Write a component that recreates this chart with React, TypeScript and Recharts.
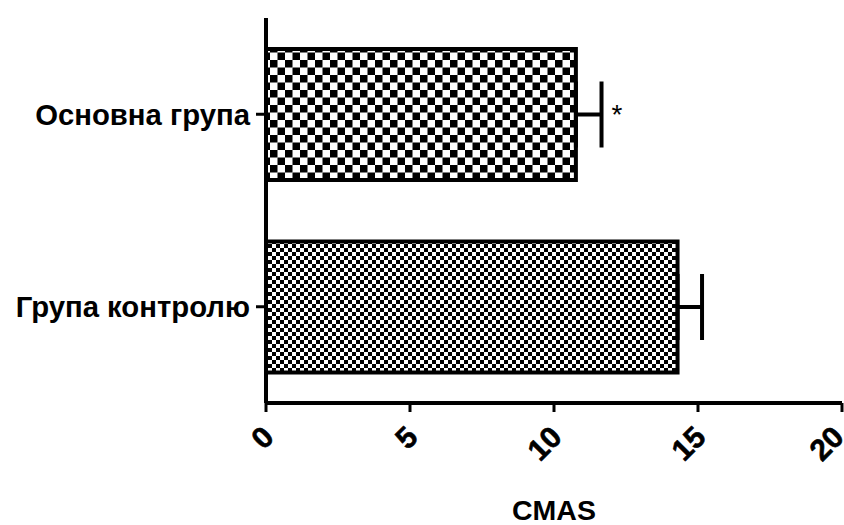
import { BarChart, Bar, XAxis, YAxis, ErrorBar, Cell, LabelList } from "recharts"

const categories = ["Основна група", "Група контролю"]
const means = [10.76, 14.29]
const sem = [0.89, 0.85]
const marks = ["*", ""]
const xTicks = [0, 5, 10, 15, 20]
const axisTitle = "CMAS"

const FONT = "Arial, 'Liberation Sans', sans-serif"
const FILLS = ["url(#checkLarge)", "url(#checkSmall)"]
const TICK_BASELINE = 439

const data = categories.map((name, i) => ({
  name,
  value: means[i],
  err: [0, sem[i]],
  mark: marks[i],
}))

function XTick(props: any) {
  const { x, payload } = props
  const ax = x + 9.5
  const ay = TICK_BASELINE
  return (
    <text
      x={ax}
      y={ay}
      transform={`rotate(-45, ${ax}, ${ay})`}
      textAnchor="end"
      style={{ fontFamily: FONT, fontWeight: "bold", fontSize: 30, fill: "#000", stroke: "#000", strokeWidth: 0.6 }}
    >
      {payload.value}
    </text>
  )
}

function MarkLabel(props: any) {
  const { x, y, width, height, index, value } = props
  if (!value) return null
  const ppu = width / means[index]
  const cx = x + width + sem[index] * ppu + 15.5
  return (
    <text x={cx} y={y + height / 2 + 9} textAnchor="middle" style={{ fontFamily: FONT, fontSize: 28, fill: "#000" }}>
      {value}
    </text>
  )
}

function AxisTitle(props: any) {
  const { viewBox } = props
  const cx = viewBox.x + viewBox.width / 2
  return (
    <text x={cx} y={520} textAnchor="middle" style={{ fontFamily: FONT, fontWeight: "bold", fontSize: 28.5, fill: "#000" }}>
      {axisTitle}
    </text>
  )
}

export default function App() {
  return (
    <div style={{ width: 844, height: 525, background: "#fff" }}>
      <style>{"body{margin:0}"}</style>
      <BarChart
        width={844}
        height={525}
        data={data}
        layout="vertical"
        margin={{ top: 18, right: 2, bottom: 0, left: 0 }}
      >
        <defs>
          <pattern id="checkLarge" patternUnits="userSpaceOnUse" width={15} height={15}>
            <rect x={0} y={0} width={15} height={15} fill="#fff" />
            <rect x={0} y={0} width={7.5} height={7.5} fill="#000" />
            <rect x={7.5} y={7.5} width={7.5} height={7.5} fill="#000" />
          </pattern>
          <pattern id="checkSmall" patternUnits="userSpaceOnUse" width={8} height={8}>
            <rect x={0} y={0} width={8} height={8} fill="#fff" />
            <rect x={0} y={0} width={4} height={4} fill="#000" />
            <rect x={4} y={4} width={4} height={4} fill="#000" />
          </pattern>
        </defs>
        <XAxis
          type="number"
          domain={[0, 20]}
          ticks={xTicks}
          height={122}
          tickSize={9}
          axisLine={{ stroke: "#000", strokeWidth: 4 }}
          tickLine={{ stroke: "#000", strokeWidth: 3 }}
          tick={<XTick />}
          label={<AxisTitle />}
        />
        <YAxis
          type="category"
          dataKey="name"
          width={266}
          tickSize={10}
          tickMargin={6}
          axisLine={{ stroke: "#000", strokeWidth: 4 }}
          tickLine={{ stroke: "#000", strokeWidth: 3 }}
          tick={{ fill: "#000", fontSize: 29.3, fontWeight: "bold", fontFamily: FONT }}
        />
        <Bar dataKey="value" barSize={131} stroke="#000" strokeWidth={4} isAnimationActive={false}>
          {data.map((d, i) => (
            <Cell key={d.name} fill={FILLS[i]} />
          ))}
          <ErrorBar dataKey="err" direction="x" width={33} stroke="#000" strokeWidth={4} />
          <LabelList dataKey="mark" content={<MarkLabel />} />
        </Bar>
      </BarChart>
    </div>
  )
}
